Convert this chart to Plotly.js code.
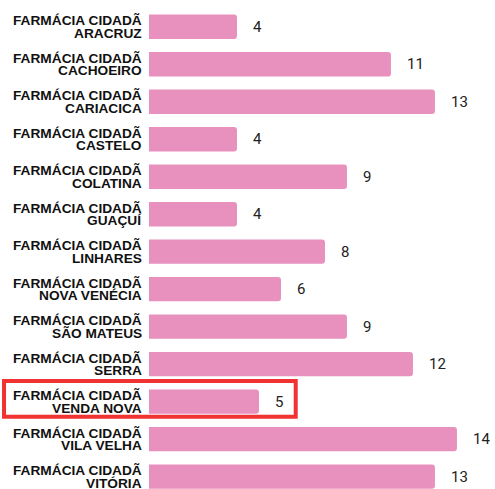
<!DOCTYPE html>
<html>
<head>
<meta charset="utf-8">
<script src="https://cdn.plot.ly/plotly-3.0.1.min.js"></script>
<style>
  html, body { margin: 0; padding: 0; background: #fff; }
  #chart { width: 495px; height: 489px; }
</style>
</head>
<body>
<div id="chart"></div>
<script>
var prefix = "FARMÁCIA CIDADÃ";
var cidades = ["ARACRUZ", "CACHOEIRO", "CARIACICA", "CASTELO", "COLATINA", "GUAÇUÍ",
               "LINHARES", "NOVA VENÉCIA", "SÃO MATEUS", "SERRA", "VENDA NOVA",
               "VILA VELHA", "VITÓRIA"];
var valores = [4, 11, 13, 4, 9, 4, 8, 6, 9, 12, 5, 14, 13];
var destaque = "VENDA NOVA";

var trace = {
    type: "bar",
    orientation: "h",
    x: valores,
    y: cidades,
    marker: {color: "#E891BE"},
    hoverinfo: "skip"
};

var labelFont = {family: "Liberation Sans, Arial, sans-serif", size: 13.7, color: "#111"};
var annotations = [];
cidades.forEach(function (c, i) {
    // two-line label as two annotations (line spacing tighter than plotly's <br>)
    annotations.push({
        xref: "paper", yref: "y", x: 0, y: c, xanchor: "right", yanchor: "middle",
        xshift: -6, yshift: 6, text: "<b>" + prefix + "</b>", showarrow: false,
        borderpad: 0, font: labelFont
    });
    annotations.push({
        xref: "paper", yref: "y", x: 0, y: c, xanchor: "right", yanchor: "middle",
        xshift: -6, yshift: -6.5, text: "<b>" + c + "</b>", showarrow: false,
        borderpad: 0, font: labelFont
    });
    // value
    annotations.push({
        xref: "x", yref: "y", x: valores[i], y: c, xanchor: "left", yanchor: "middle",
        xshift: 14, text: String(valores[i]), showarrow: false,
        font: {family: "Roboto, sans-serif", size: 15, color: "#222"}
    });
});

var idx = cidades.indexOf(destaque);

var layout = {
    width: 495,
    height: 489,
    margin: {l: 149, r: 0, t: 8, b: 0},
    paper_bgcolor: "#fff",
    plot_bgcolor: "#fff",
    showlegend: false,
    bargap: 0.35,
    barcornerradius: 3,
    xaxis: {range: [0, 15.73], visible: false, fixedrange: true},
    yaxis: {
        type: "category",
        range: [12.33, -0.5],
        showticklabels: false,
        showgrid: false,
        zeroline: false,
        showline: false,
        ticks: "",
        fixedrange: true
    },
    annotations: annotations,
    shapes: [{
        type: "rect",
        xref: "paper", yref: "y",
        x0: -0.419, x1: 0.424,
        y0: idx - 0.55, y1: idx + 0.4,
        line: {color: "#F03232", width: 4},
        fillcolor: "rgba(0,0,0,0)"
    }]
};

Plotly.newPlot("chart", [trace], layout, {displayModeBar: false, staticPlot: true});
</script>
</body>
</html>
